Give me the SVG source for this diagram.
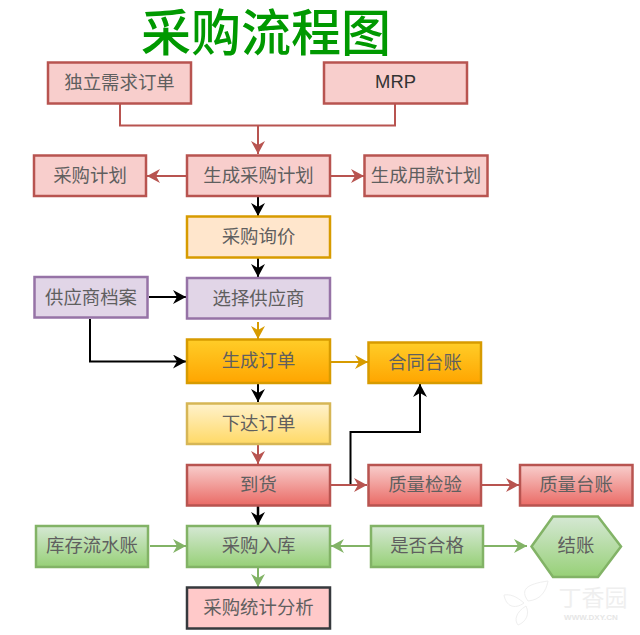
<svg xmlns="http://www.w3.org/2000/svg" width="640" height="635" viewBox="0 0 640 635">
<style>
text{font-family:"Noto Sans CJK SC","Noto Sans",sans-serif;font-size:18.400px;fill:#5f5f5f;text-anchor:middle;dominant-baseline:central}
rect,polygon.n{stroke-width:2.5}
.c{fill:none;stroke-width:2}
.red{fill:#f8cecc;stroke:#b85450}.or{fill:#ffe6cc;stroke:#d79b00}.pu{fill:#e1d5e7;stroke:#9673a6}
.am{fill:url(#gOr);stroke:#d79b00}.ye{fill:url(#gYe);stroke:#d6b656}.rd{fill:url(#gRd);stroke:#b85450}.gr{fill:url(#gGr);stroke:#82b366}
.pk{fill:#ffc9c9;stroke:#36393d}
.kr{stroke:#b85450}.kk{stroke:#000}.ka{stroke:#d79b00}.kg{stroke:#82b366}
.w{fill:none;stroke:#efefef;stroke-width:1}
</style>
<defs>
<linearGradient id="gOr" x1="0" y1="0" x2="0" y2="1"><stop offset="0" stop-color="#ffcd28"/><stop offset="1" stop-color="#ffa500"/></linearGradient>
<linearGradient id="gYe" x1="0" y1="0" x2="0" y2="1"><stop offset="0" stop-color="#fff2cc"/><stop offset="1" stop-color="#ffd966"/></linearGradient>
<linearGradient id="gRd" x1="0" y1="0" x2="0" y2="1"><stop offset="0" stop-color="#f8cecc"/><stop offset="1" stop-color="#ea6b66"/></linearGradient>
<linearGradient id="gGr" x1="0" y1="0" x2="0" y2="1"><stop offset="0" stop-color="#d5e8d4"/><stop offset="1" stop-color="#97d077"/></linearGradient>
<marker id="mr" markerUnits="userSpaceOnUse" markerWidth="14" markerHeight="14" refX="13" refY="7" orient="auto"><path d="M0 0L13 7L0 14L4 7Z" fill="#b85450"/></marker>
<marker id="mk" markerUnits="userSpaceOnUse" markerWidth="14" markerHeight="14" refX="13" refY="7" orient="auto"><path d="M0 0L13 7L0 14L4 7Z" fill="#000"/></marker>
<marker id="ma" markerUnits="userSpaceOnUse" markerWidth="14" markerHeight="14" refX="13" refY="7" orient="auto"><path d="M0 0L13 7L0 14L4 7Z" fill="#d79b00"/></marker>
<marker id="mg" markerUnits="userSpaceOnUse" markerWidth="14" markerHeight="14" refX="13" refY="7" orient="auto"><path d="M0 0L13 7L0 14L4 7Z" fill="#82b366"/></marker>
</defs>
<text id="title" x="266" y="51" style="font-family:'Liberation Serif','Noto Sans CJK SC',serif;dominant-baseline:auto;font-size:50px;fill:#009900;font-weight:500">采购流程图</text>
<g id="connectors">
<path class="c kr" d="M120 104V125.500H395V104"/>
<path class="c kr" d="M258 125.500V154" marker-end="url(#mr)"/>
<path class="c kr" d="M186 176H147" marker-end="url(#mr)"/>
<path class="c kr" d="M331 176H364" marker-end="url(#mr)"/>
<path class="c kk" d="M258 197V216" marker-end="url(#mk)"/>
<path class="c kk" d="M258 258V277" marker-end="url(#mk)"/>
<path class="c kk" d="M149 297H186" marker-end="url(#mk)"/>
<path class="c ka" d="M258 322V339" marker-end="url(#ma)"/>
<path class="c kk" d="M90 319V361.500H186" marker-end="url(#mk)"/>
<path class="c ka" d="M331 362H368" marker-end="url(#ma)"/>
<path class="c kk" d="M258 384V402" marker-end="url(#mk)"/>
<path class="c kr" d="M258 445V464" marker-end="url(#mr)"/>
<path class="c kk" d="M350.500 485V432H420V384" marker-end="url(#mk)"/>
<path class="c kr" d="M331 485H367" marker-end="url(#mr)"/>
<path class="c kr" d="M482 485H519" marker-end="url(#mr)"/>
<path class="c kk" style="stroke-width:2.500" d="M258 506V525" marker-end="url(#mk)"/>
<path class="c kg" d="M150 546H186" marker-end="url(#mg)"/>
<path class="c kg" d="M370 546H331" marker-end="url(#mg)"/>
<path class="c kg" d="M484 546H527" marker-end="url(#mg)"/>
<path class="c kg" d="M258 568V587" marker-end="url(#mg)"/>
</g>
<g id="n1"><rect class="red" x="48" y="62.500" width="143" height="41"/><text x="119.500" y="81">独立需求订单</text></g>
<g id="n2"><rect class="red" x="324" y="62.500" width="143" height="41"/><text x="395.500" y="81" style="font-family:'Liberation Sans',sans-serif;fill:#333">MRP</text></g>
<g id="n3"><rect class="red" x="34" y="155.500" width="112" height="40.500"/><text x="90" y="174">采购计划</text></g>
<g id="n4"><rect class="red" x="187" y="155.500" width="143" height="40.500"/><text x="258.500" y="174">生成采购计划</text></g>
<g id="n5"><rect class="red" x="364.500" y="155.500" width="123" height="40.500"/><text x="426" y="174">生成用款计划</text></g>
<g id="n6"><rect class="or" x="187" y="216.500" width="143" height="41"/><text x="258.500" y="235">采购询价</text></g>
<g id="n7"><rect class="pu" x="34.500" y="277" width="113" height="40.500"/><text x="91" y="296">供应商档案</text></g>
<g id="n8"><rect class="pu" x="187" y="278" width="143" height="40.500"/><text x="258.500" y="296.500">选择供应商</text></g>
<g id="n9"><rect class="am" x="187" y="339.500" width="143" height="43.500"/><text x="258.500" y="359">生成订单</text></g>
<g id="n10"><rect class="am" x="368.500" y="342.500" width="112.500" height="40.500"/><text x="425" y="361">合同台账</text></g>
<g id="n11"><rect class="ye" x="187" y="403.500" width="143" height="40.500"/><text x="258.500" y="422">下达订单</text></g>
<g id="n12"><rect class="rd" x="187" y="465" width="143" height="40.500"/><text x="258.500" y="483">到货</text></g>
<g id="n13"><rect class="rd" x="368.500" y="465" width="112.500" height="40.500"/><text x="425" y="483">质量检验</text></g>
<g id="n14"><rect class="rd" x="520" y="465" width="112.500" height="40.500"/><text x="576" y="483">质量台账</text></g>
<g id="n15"><rect class="gr" x="36" y="526" width="112" height="41"/><text x="92" y="544">库存流水账</text></g>
<g id="n16"><rect class="gr" x="187" y="526" width="143" height="41"/><text x="258.500" y="544">采购入库</text></g>
<g id="n17"><rect class="gr" x="371" y="526" width="112" height="41"/><text x="427" y="544">是否合格</text></g>
<g id="n18"><polygon class="n gr" points="531.500,546.500 553,516.500 598,516.500 621,546.500 598,577 553,577"/><text x="576" y="544">结账</text></g>
<g id="n19"><rect class="pk" x="187" y="587.500" width="143" height="41"/><text x="258.500" y="606">采购统计分析</text></g>
<g id="watermark">
<path class="w" d="M528 601C520 590 526 584 548 581C546 592 540 600 528 601ZM524 603C516 596 510 594 504 595C506 606 514 610 524 603ZM526 606C516 612 514 620 518 625C526 622 530 614 526 606Z"/>
<text x="593" y="596" style="font-size:23px;fill:#efefef">丁香园</text><text x="591" y="617" style="font-size:8px;fill:#e6e6e6;font-family:'Liberation Sans',sans-serif;font-weight:bold">WWW.DXY.CN</text></g>
</svg>
